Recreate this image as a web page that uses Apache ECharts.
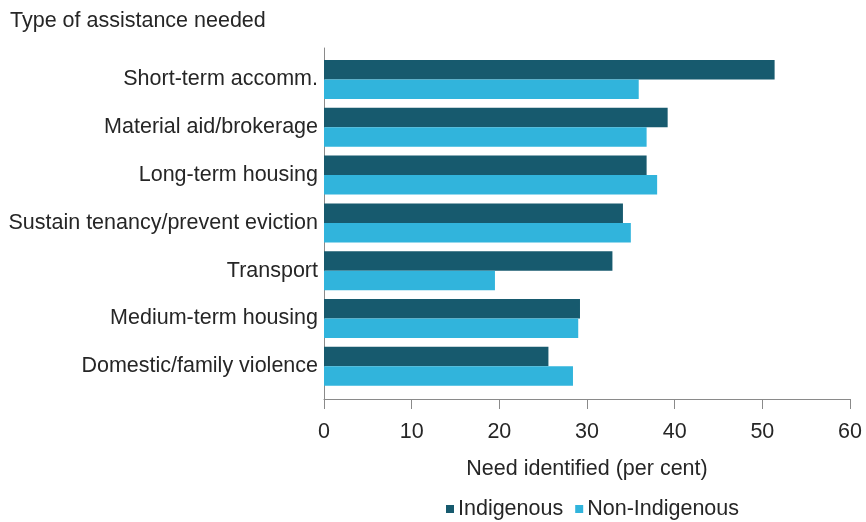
<!DOCTYPE html>
<html>
<head>
<meta charset="utf-8">
<script src="https://cdn.jsdelivr.net/npm/echarts@6/dist/echarts.min.js"></script>
<style>
  html, body { margin: 0; padding: 0; background: #ffffff; }
  #chart { width: 866px; height: 522px; }
</style>
</head>
<body>
<div id="chart"></div>
<script>
// Assistance types, top to bottom
const categories = [
  'Short-term accomm.',
  'Material aid/brokerage',
  'Long-term housing',
  'Sustain tenancy/prevent eviction',
  'Transport',
  'Medium-term housing',
  'Domestic/family violence'
];
// Share of clients with the need identified (per cent)
const indigenous    = [51.4, 39.2, 36.8, 34.1, 32.9, 29.2, 25.6];
const nonIndigenous = [35.9, 36.8, 38.0, 35.0, 19.5, 29.0, 28.4];
const seriesNames = ['Indigenous', 'Non-Indigenous'];
const xTicks = { min: 0, max: 60, interval: 10 };

const FONT = '"Liberation Sans", Arial, sans-serif';
const FS = 21.5;
const TEXT = '#262626';
const AXIS = '#8a8a8a';
const DARK = '#175a6e';
const LIGHT = '#31b4dc';

const chart = echarts.init(document.getElementById('chart'), null, { renderer: 'canvas' });

chart.setOption({
  backgroundColor: '#ffffff',
  animation: false,
  textStyle: { fontFamily: FONT, color: TEXT },
  title: {
    text: 'Type of assistance needed',
    left: 5, top: 5,
    textStyle: { fontFamily: FONT, fontSize: FS, fontWeight: 'normal', color: TEXT }
  },
  legend: {
    data: seriesNames,
    left: 441, top: 493,
    icon: 'rect',
    itemWidth: 8, itemHeight: 8,
    itemGap: 12,
    textStyle: { fontFamily: FONT, fontSize: FS, color: TEXT, padding: [0, 0, 0, -1] }
  },
  grid: [
    // bars
    { left: 324, right: 16, top: 55.6, height: 334.6 },
    // axis frame
    { left: 324, right: 16, top: 48, bottom: 123 }
  ],
  xAxis: [
    {
      gridIndex: 0, type: 'value',
      min: xTicks.min, max: xTicks.max, interval: xTicks.interval,
      show: false
    },
    {
      gridIndex: 1, type: 'value',
      min: xTicks.min, max: xTicks.max, interval: xTicks.interval,
      axisLine: { show: true, lineStyle: { color: AXIS, width: 1 } },
      axisTick: { show: true, length: 10, lineStyle: { color: AXIS } },
      splitLine: { show: false },
      axisLabel: { margin: 22, fontSize: FS, color: TEXT, fontFamily: FONT },
      name: 'Need identified (per cent)',
      nameLocation: 'middle',
      nameGap: 59,
      nameTextStyle: { fontSize: FS, color: TEXT, fontFamily: FONT }
    }
  ],
  yAxis: [
    {
      gridIndex: 0, type: 'category', data: categories, inverse: true,
      axisLine: { show: false },
      axisTick: { show: false },
      axisLabel: { margin: 6, fontSize: FS, color: TEXT, fontFamily: FONT }
    },
    {
      gridIndex: 1, type: 'category', data: categories,
      axisLine: { show: true, lineStyle: { color: AXIS, width: 1 } },
      axisTick: { show: false },
      axisLabel: { show: false }
    }
  ],
  series: [
    {
      name: seriesNames[0], type: 'bar', xAxisIndex: 0, yAxisIndex: 0,
      data: indigenous, barWidth: 19.5, barGap: '0%',
      itemStyle: { color: DARK }
    },
    {
      name: seriesNames[1], type: 'bar', xAxisIndex: 0, yAxisIndex: 0,
      data: nonIndigenous, barWidth: 19.5, barGap: '0%',
      itemStyle: { color: LIGHT }
    }
  ]
});
</script>
</body>
</html>
